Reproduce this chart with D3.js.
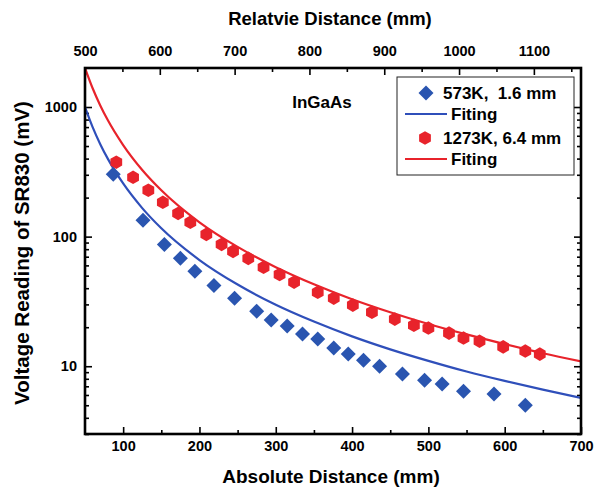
<!DOCTYPE html>
<html><head><meta charset="utf-8">
<script src="https://cdn.jsdelivr.net/npm/d3@7"></script>
<style>
body{margin:0;background:#fff}
svg text{font-family:"Liberation Sans",Arial,sans-serif;font-weight:bold;fill:#000}
</style>
</head><body>
<svg id="c" width="598" height="493"></svg>
<script>
// ---- data ----
const blueX = [87,126,154,175,194,219,246,275,294,315,335,355,376,395,415,436,466,495,518,546,586,627];
const blueV = [303,134,87,68,54,42,33.5,26.6,22.7,20.4,17.7,16.2,13.8,12.4,11.1,10.0,8.7,7.8,7.3,6.4,6.1,5.0];
const redX = [91,113,133,152,172,188,209,229,244,264,284,305,324,355,376,401,426,456,481,500,527,546,567,598,627,646];
const redV = [375,287,228,184,151,129,104,87,77,68,58,51,44.5,37.2,33.5,29.6,26.1,23.1,20.7,19.7,18.0,16.5,15.6,14.1,13.1,12.4];
const fitX = [50,60,70,80,100,125,150,200,250,300,350,400,450,500,550,600,650,700];
const blueFit = [1000,700,517,398,257,166,116,66,42.7,29.8,22.1,17.0,13.5,11.0,9.1,7.7,6.6,5.7];
const redFit = [2000,1395,1029,790,509,327,228,129,83.3,58.1,42.9,32.9,26.1,21.2,17.6,14.8,12.6,10.9];
const bottomTicks = [100,200,300,400,500,600,700];
const bottomMinor = [150,250,350,450,550,650];
const topTicks = [500,600,700,800,900,1000,1100];
const topMinor = [550,650,750,850,950,1050,1150];
const yTicks = [10,100,1000];
const yMinor = [3,4,5,6,7,8,9,20,30,40,50,60,70,80,90,200,300,400,500,600,700,800,900];
const legendLabels = ["573K,  1.6 mm","Fiting","1273K, 6.4 mm","Fiting"];

const BLUE = "#2a55b0", BLUEL = "#2f4fba", RED = "#e8232b";
const L = 85, R = 581, T = 68, B = 434;
const svg = d3.select("#c");

const x = d3.scaleLinear().domain([50,700]).range([L,R]);
const xTop = d3.scaleLinear().domain([500,1163]).range([L,R]);
const y = d3.scaleLog().domain([3,2000]).range([B,T]);

// axes
function styleAxis(g){ g.select(".domain").remove(); g.selectAll("line").attr("stroke","#000").attr("stroke-width",1.6); g.selectAll("text").attr("font-size",14.5).attr("font-family",null); }
svg.append("g").attr("transform",`translate(0,${B})`).call(d3.axisBottom(x).tickValues(bottomTicks).tickFormat(d3.format("d")).tickSizeInner(-7).tickSizeOuter(0).tickPadding(7)).call(styleAxis);
svg.append("g").attr("transform",`translate(0,${B})`).call(d3.axisBottom(x).tickValues(bottomMinor).tickFormat("").tickSizeInner(-4).tickSizeOuter(0)).call(styleAxis);
svg.append("g").attr("transform",`translate(0,${T})`).call(d3.axisTop(xTop).tickValues(topTicks).tickFormat(d3.format("d")).tickSizeInner(-7).tickSizeOuter(0).tickPadding(12)).call(styleAxis);
svg.append("g").attr("transform",`translate(0,${T})`).call(d3.axisTop(xTop).tickValues(topMinor).tickFormat("").tickSizeInner(-4).tickSizeOuter(0)).call(styleAxis);
svg.append("g").attr("transform",`translate(${L},0)`).call(d3.axisLeft(y).tickValues(yTicks).tickFormat(d3.format("d")).tickSizeInner(-7).tickSizeOuter(0).tickPadding(8)).call(styleAxis);
svg.append("g").attr("transform",`translate(${L},0)`).call(d3.axisLeft(y).tickValues(yMinor).tickFormat("").tickSizeInner(-4).tickSizeOuter(0)).call(styleAxis);
svg.append("g").attr("transform",`translate(${R},0)`).call(d3.axisRight(y).tickValues(yTicks).tickFormat("").tickSizeInner(-7).tickSizeOuter(0)).call(styleAxis);
svg.append("g").attr("transform",`translate(${R},0)`).call(d3.axisRight(y).tickValues(yMinor).tickFormat("").tickSizeInner(-4).tickSizeOuter(0)).call(styleAxis);

// clip
svg.append("clipPath").attr("id","clip").append("rect").attr("x",L).attr("y",T).attr("width",R-L).attr("height",B-T);
const plot = svg.append("g").attr("clip-path","url(#clip)");

const line = d3.line().x(d=>x(d[0])).y(d=>y(d[1])).curve(d3.curveMonotoneX);
plot.append("path").attr("d",line(fitX.map((v,i)=>[v,redFit[i]]))).attr("fill","none").attr("stroke",RED).attr("stroke-width",2.2);
plot.append("path").attr("d",line(fitX.map((v,i)=>[v,blueFit[i]]))).attr("fill","none").attr("stroke",BLUEL).attr("stroke-width",2.2);

const diamond = "M0,-7.5L7.5,0L0,7.5L-7.5,0Z";
const hexR = 6.8;
const hex = d3.range(6).map(i=>{const a=Math.PI/3*i - Math.PI/2; return [hexR*Math.cos(a),hexR*Math.sin(a)];});
const hexPath = "M"+hex.map(p=>p.join(",")).join("L")+"Z";

plot.selectAll(".b").data(blueX.map((v,i)=>[v,blueV[i]])).join("path").attr("d",diamond)
  .attr("transform",d=>`translate(${x(d[0])},${y(d[1])})`).attr("fill",BLUE);
plot.selectAll(".r").data(redX.map((v,i)=>[v,redV[i]])).join("path").attr("d",hexPath)
  .attr("transform",d=>`translate(${x(d[0])},${y(d[1])})`).attr("fill",RED);

// frame
svg.append("rect").attr("x",L).attr("y",T).attr("width",R-L).attr("height",B-T).attr("fill","none").attr("stroke","#000").attr("stroke-width",2.6);

// titles
svg.append("text").attr("x",331).attr("y",483).attr("text-anchor","middle").attr("font-size",19).text("Absolute Distance (mm)");
svg.append("text").attr("x",330).attr("y",25).attr("text-anchor","middle").attr("font-size",18.5).text("Relatvie Distance (mm)");
svg.append("text").attr("transform","translate(29,253) rotate(-90)").attr("text-anchor","middle").attr("font-size",20.5).text("Voltage Reading of SR830 (mV)");
svg.append("text").attr("x",322).attr("y",108).attr("text-anchor","middle").attr("font-size",17).text("InGaAs");

// legend
const lg = svg.append("g");
lg.append("rect").attr("x",397).attr("y",77).attr("width",177).attr("height",98).attr("fill","#fff").attr("stroke","#222").attr("stroke-width",1);
const rows = [93,114,138,159];
lg.append("path").attr("d",diamond).attr("transform",`translate(426,${rows[0]})`).attr("fill",BLUE);
lg.append("line").attr("x1",405).attr("x2",447).attr("y1",rows[1]).attr("y2",rows[1]).attr("stroke",BLUEL).attr("stroke-width",2.2);
lg.append("path").attr("d",hexPath).attr("transform",`translate(425,${rows[2]})`).attr("fill",RED);
lg.append("line").attr("x1",405).attr("x2",447).attr("y1",rows[3]).attr("y2",rows[3]).attr("stroke",RED).attr("stroke-width",2.2);
lg.selectAll(".lt").data(legendLabels).join("text")
  .attr("x",(d,i)=> i%2===0 ? 443 : 451).attr("y",(d,i)=>rows[i]+6).attr("font-size",17)
  .attr("xml:space","preserve").style("white-space","pre").text(d=>d);
</script>
</body></html>
